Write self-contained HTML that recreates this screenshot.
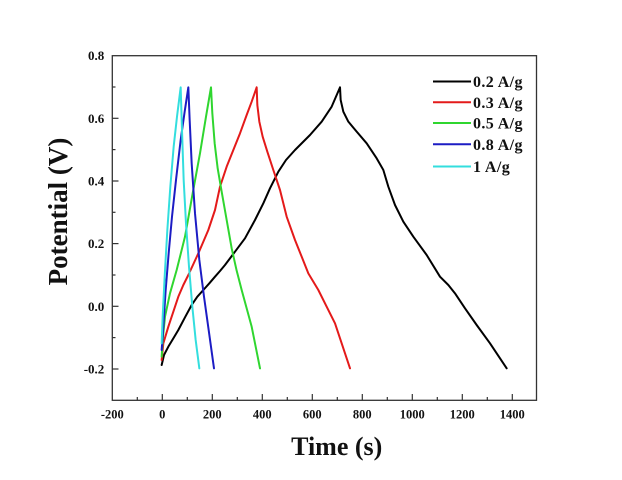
<!DOCTYPE html>
<html>
<head>
<meta charset="utf-8">
<style>
  html, body { margin:0; padding:0; background:#fff; }
  svg { display:block; }
  text { font-family: "Liberation Serif", "Times New Roman", serif; font-weight: bold; fill:#111; }
</style>
</head>
<body>
<svg width="622" height="480" viewBox="0 0 622 480" xmlns="http://www.w3.org/2000/svg">
  <rect width="622" height="480" fill="#fff"/>

  <!-- curves (coords in 3x zoom space, origin 150,80) -->
  <g transform="translate(150,80) scale(0.333333)" fill="none" stroke-linejoin="round" stroke-linecap="round">
    <!-- black 0.2 A/g -->
    <polyline vector-effect="non-scaling-stroke" stroke="#000" stroke-width="2"
      points="35,855 42,825 55,800 70,775 85,750 105,712 125,675 142,650 160,630 178,610 195,590 210,573 225,555 255,515 285,475 315,420 340,370 360,325 385,275 408,240 435,210 480,165 515,125 545,80 570,22 572,60 580,95 595,125 620,155 650,190 680,235 700,270 715,320 735,375 760,425 790,470 830,525 870,590 895,615 915,640 945,685 980,735 1020,790 1070,865"/>
    <!-- red 0.3 A/g -->
    <polyline vector-effect="non-scaling-stroke" stroke="#e41a1a" stroke-width="2"
      points="35,840 40,790 55,740 70,695 85,650 100,615 115,585 145,520 175,450 195,390 210,320 230,260 250,210 270,160 290,105 305,65 320,22 322,75 328,125 338,170 352,215 370,270 390,330 410,410 435,480 455,530 475,580 505,630 530,680 555,730 600,865"/>
    <!-- green 0.5 A/g -->
    <polyline vector-effect="non-scaling-stroke" stroke="#2fd62f" stroke-width="2"
      points="35,830 38,780 45,710 60,640 80,570 105,470 128,340 150,220 168,110 183,22 187,100 194,190 203,265 215,335 230,420 245,505 260,572 275,630 305,740 330,865"/>
    <!-- blue 0.8 A/g -->
    <polyline vector-effect="non-scaling-stroke" stroke="#1c1cc4" stroke-width="2"
      points="35,810 40,740 47,630 56,520 66,410 78,300 92,180 104,95 115,22 119,120 125,250 135,400 148,540 162,650 176,750 192,865"/>
    <!-- cyan 1 A/g -->
    <polyline vector-effect="non-scaling-stroke" stroke="#33dede" stroke-width="2"
      points="35,790 38,710 44,590 52,450 61,320 71,200 81,110 92,22 96,150 101,300 108,430 117,560 127,680 137,780 148,865"/>
  </g>

  <!-- frame -->
  <rect x="112.3" y="55.7" width="424.2" height="344.6" fill="none" stroke="#333" stroke-width="1.3"/>

  <!-- x ticks -->
  <g stroke="#333" stroke-width="1.2">
    <line x1="162.3" y1="400.3" x2="162.3" y2="394"/>
    <line x1="212.3" y1="400.3" x2="212.3" y2="394"/>
    <line x1="262.3" y1="400.3" x2="262.3" y2="394"/>
    <line x1="312.3" y1="400.3" x2="312.3" y2="394"/>
    <line x1="362.3" y1="400.3" x2="362.3" y2="394"/>
    <line x1="412.3" y1="400.3" x2="412.3" y2="394"/>
    <line x1="462.3" y1="400.3" x2="462.3" y2="394"/>
    <line x1="512.3" y1="400.3" x2="512.3" y2="394"/>
    <line x1="137.3" y1="400.3" x2="137.3" y2="397"/>
    <line x1="187.3" y1="400.3" x2="187.3" y2="397"/>
    <line x1="237.3" y1="400.3" x2="237.3" y2="397"/>
    <line x1="287.3" y1="400.3" x2="287.3" y2="397"/>
    <line x1="337.3" y1="400.3" x2="337.3" y2="397"/>
    <line x1="387.3" y1="400.3" x2="387.3" y2="397"/>
    <line x1="437.3" y1="400.3" x2="437.3" y2="397"/>
    <line x1="487.3" y1="400.3" x2="487.3" y2="397"/>
  </g>
  <!-- y ticks -->
  <g stroke="#333" stroke-width="1.2">
    <line x1="112.3" y1="369" x2="118.5" y2="369"/>
    <line x1="112.3" y1="306.3" x2="118.5" y2="306.3"/>
    <line x1="112.3" y1="243.6" x2="118.5" y2="243.6"/>
    <line x1="112.3" y1="181" x2="118.5" y2="181"/>
    <line x1="112.3" y1="118.3" x2="118.5" y2="118.3"/>
    <line x1="112.3" y1="337.6" x2="115.5" y2="337.6"/>
    <line x1="112.3" y1="275" x2="115.5" y2="275"/>
    <line x1="112.3" y1="212.3" x2="115.5" y2="212.3"/>
    <line x1="112.3" y1="149.6" x2="115.5" y2="149.6"/>
    <line x1="112.3" y1="87" x2="115.5" y2="87"/>
  </g>

  <!-- x tick labels -->
  <g font-size="12.5" text-anchor="middle">
    <text x="112.3" y="418.5">-200</text>
    <text x="162.3" y="418.5">0</text>
    <text x="212.3" y="418.5">200</text>
    <text x="262.3" y="418.5">400</text>
    <text x="312.3" y="418.5">600</text>
    <text x="362.3" y="418.5">800</text>
    <text x="412.3" y="418.5">1000</text>
    <text x="462.3" y="418.5">1200</text>
    <text x="512.3" y="418.5">1400</text>
  </g>
  <!-- y tick labels -->
  <g font-size="13" text-anchor="end">
    <text x="104.3" y="60.2">0.8</text>
    <text x="104.3" y="122.8">0.6</text>
    <text x="104.3" y="185.5">0.4</text>
    <text x="104.3" y="248.1">0.2</text>
    <text x="104.3" y="310.8">0.0</text>
    <text x="104.3" y="373.5">-0.2</text>
  </g>

  <!-- axis titles -->
  <text x="336.7" y="455" font-size="26" text-anchor="middle">Time (s)</text>
  <text transform="translate(67,211.5) rotate(-90)" font-size="27" text-anchor="middle">Potential (V)</text>

  <!-- legend -->
  <g stroke-width="2">
    <line x1="433" y1="81.5" x2="471" y2="81.5" stroke="#000"/>
    <line x1="433" y1="102.3" x2="471" y2="102.3" stroke="#e41a1a"/>
    <line x1="433" y1="123" x2="471" y2="123" stroke="#2fd62f"/>
    <line x1="433" y1="144.3" x2="471" y2="144.3" stroke="#1c1cc4"/>
    <line x1="433" y1="166.5" x2="471" y2="166.5" stroke="#33dede"/>
  </g>
  <g font-size="16" letter-spacing="0.4">
    <text x="473" y="87">0.2 A/g</text>
    <text x="473" y="107.8">0.3 A/g</text>
    <text x="473" y="128.5">0.5 A/g</text>
    <text x="473" y="149.8">0.8 A/g</text>
    <text x="473" y="172">1 A/g</text>
  </g>
</svg>
</body>
</html>
